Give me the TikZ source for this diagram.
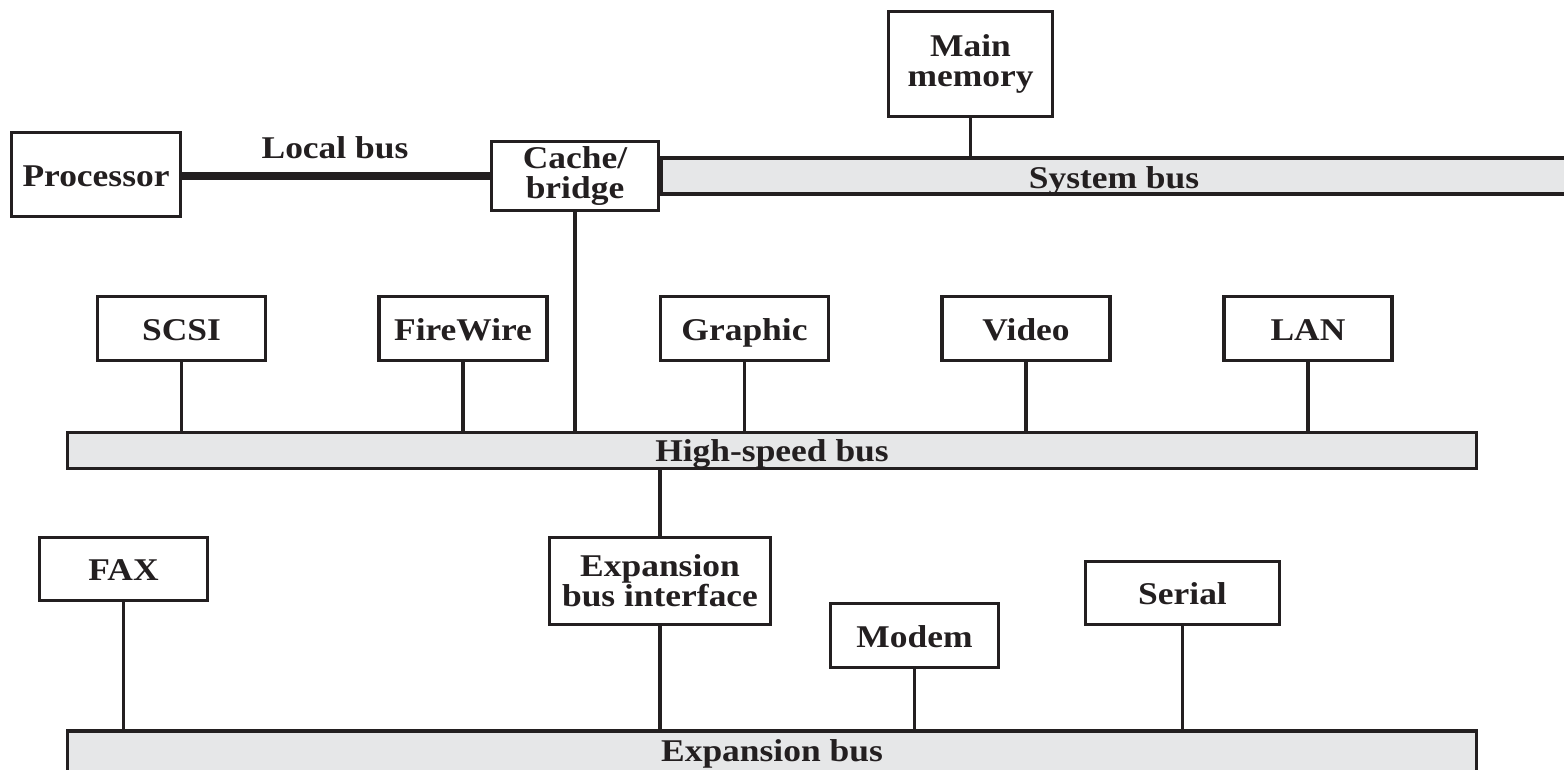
\documentclass[tikz,border=0pt]{standalone}
\usepackage{fontspec}
\setmainfont{Liberation Serif}[FakeStretch=1.12]
\definecolor{ink}{HTML}{231F20}
\definecolor{busgray}{HTML}{E6E7E8}
\begin{document}
\begin{tikzpicture}[x=0.01cm,y=-0.01cm,
  txt/.style={text=ink, font=\fontsize{9}{8.6}\selectfont\bfseries},
  oneline/.style={text height=0.66em, text depth=0pt},
  unit/.style={txt, draw=ink, line width=0.033cm, fill=white, inner sep=0pt, align=center},
  bus/.style={draw=ink, line width=0.033cm, fill=busgray, inner sep=0pt},
  label/.style={txt, oneline, inner sep=0pt},
  wire/.style={draw=ink, line width=0.033cm},
  widewire/.style={draw=ink, line width=0.085cm}]
\useasboundingbox (0,0) rectangle (1564,770);
\clip (0,0) rectangle (1564,770);

% buses
\node[bus, minimum width=1409*0.01cm, minimum height=36*0.01cm] (hsbus) at (772,450.5) {};
\node[label] at (772,450) {High-speed bus};
\node[bus, minimum width=1409*0.01cm, minimum height=80*0.01cm] (exbus) at (772,771) {};
\node[label] at (772,750) {Expansion bus};
\node[bus, minimum width=1000*0.01cm, minimum height=36*0.01cm, anchor=west] (sysbus) at (660,176) {};
\node[label] at (1114,177) {System bus};

% top row
\node[unit, minimum width=164*0.01cm, minimum height=105*0.01cm] (mem) at (970.5,64) {Main\\memory};
\node[unit, oneline, minimum width=169*0.01cm, minimum height=84*0.01cm] (proc) at (96,174.5) {Processor};
\node[unit, minimum width=167*0.01cm, minimum height=69*0.01cm] (cache) at (575,176) {Cache/\\bridge};
\node[label] at (335,147) {Local bus};

% high-speed devices
\foreach \nm/\tx/\cx in {scsi/SCSI/181.5, fw/FireWire/463, gfx/Graphic/744.5, vid/Video/1026, lan/LAN/1308}
  \node[unit, oneline, minimum width=168*0.01cm, minimum height=64*0.01cm] (\nm) at (\cx,328.5) {\tx};

% expansion devices
\node[unit, oneline, minimum width=168*0.01cm, minimum height=63*0.01cm] (fax) at (123.5,569) {FAX};
\node[unit, minimum width=221*0.01cm, minimum height=87*0.01cm] (ebi) at (660,581) {Expansion\\bus interface};
\node[unit, oneline, minimum width=168*0.01cm, minimum height=64*0.01cm] (modem) at (914.5,635.5) {Modem};
\node[unit, oneline, minimum width=194*0.01cm, minimum height=63*0.01cm] (serial) at (1182.5,593) {Serial};

% connections
\draw[widewire] (proc.east |- cache.west) -- (cache.west);
\draw[wire] (mem.south) -- (mem.south |- sysbus.north);
\draw[wire] (cache.south) -- (cache.south |- hsbus.north);
\foreach \nm in {scsi,fw,gfx,vid,lan}
  \draw[wire] (\nm.south) -- (\nm.south |- hsbus.north);
\draw[wire] (ebi.north |- hsbus.south) -- (ebi.north);
\foreach \nm in {fax,ebi,modem,serial}
  \draw[wire] (\nm.south) -- (\nm.south |- exbus.north);
\end{tikzpicture}
\end{document}
